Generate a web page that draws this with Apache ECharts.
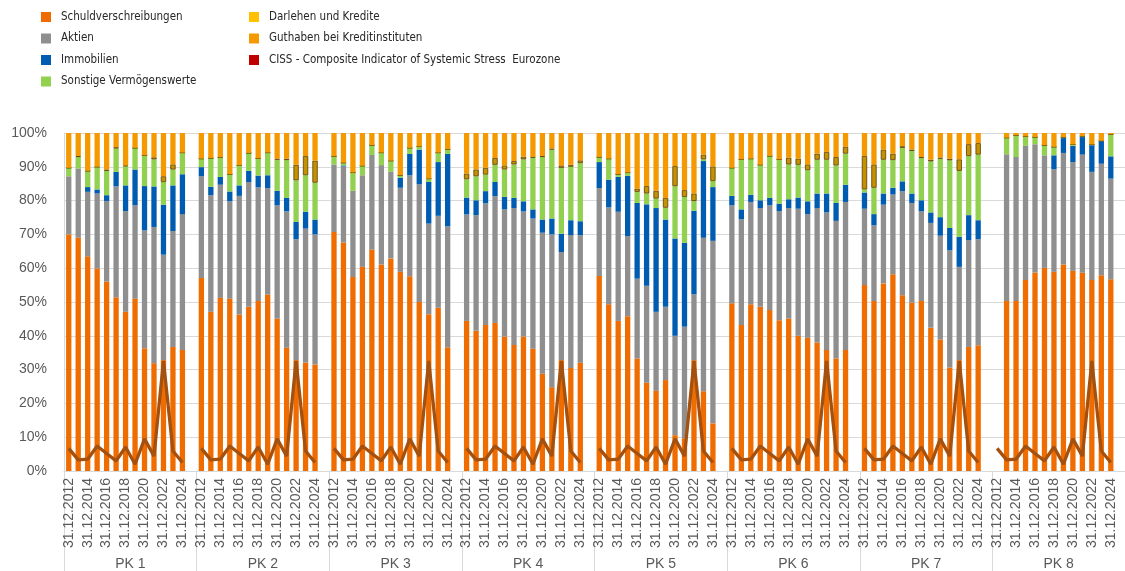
<!DOCTYPE html>
<html>
<head>
<meta charset="utf-8">
<script src="https://cdn.jsdelivr.net/npm/echarts@6/dist/echarts.min.js"></script>
<style>
  html, body { margin: 0; padding: 0; background: #fff; }
  #chart { width: 1125px; height: 571px; }
</style>
</head>
<body>
<div id="chart"></div>
<script>
// groups (funds) and years shown on the lower axis
const groups = ['PK 1', 'PK 2', 'PK 3', 'PK 4', 'PK 5', 'PK 6', 'PK 7', 'PK 8'];
const years = ['31.12.2012', '31.12.2013', '31.12.2014', '31.12.2015', '31.12.2016', '31.12.2017',
  '31.12.2018', '31.12.2019', '31.12.2020', '31.12.2021', '31.12.2022', '31.12.2023', '31.12.2024'];

// shares in %, one row of 13 years per group
const schuld = [
  [70.0, 69.0, 63.5, 59.9, 56.0, 51.4, 47.1, 51.0, 36.3, 31.9, 32.8, 36.7, 35.8],
  [57.1, 47.1, 51.2, 51.0, 46.3, 48.6, 50.3, 52.2, 45.1, 36.5, 32.8, 32.1, 31.5],
  [70.7, 67.6, 57.4, 60.4, 65.5, 61.1, 62.9, 58.9, 57.6, 50.0, 46.4, 48.3, 36.6],
  [44.4, 41.5, 43.2, 43.8, 39.8, 37.3, 39.8, 36.2, 28.8, 24.8, 32.8, 30.5, 32.0],
  [57.7, 49.3, 44.4, 45.8, 33.3, 26.1, 23.7, 26.9, 10.6, 9.7, 32.8, 23.6, 14.1],
  [49.6, 43.2, 49.3, 48.6, 47.6, 44.6, 45.1, 40.0, 39.4, 38.0, 35.8, 33.3, 35.8],
  [55.0, 50.3, 55.5, 58.2, 52.0, 49.8, 50.3, 42.4, 38.9, 30.6, 32.8, 36.7, 37.2],
  [null, 50.3, 50.3, 56.5, 58.7, 60.1, 58.9, 61.1, 59.2, 58.7, 56.5, 57.9, 56.7]
];
const aktien = [
  [17.2, 20.5, 19.1, 22.2, 23.9, 32.8, 29.8, 27.6, 34.9, 40.3, 31.2, 34.3, 40.2],
  [30.1, 34.5, 33.5, 28.8, 35.1, 36.9, 33.6, 31.5, 33.5, 40.3, 35.8, 39.6, 38.5],
  [20.0, 22.5, 25.5, 27.1, 28.0, 29.4, 25.6, 24.9, 29.9, 34.8, 26.8, 27.2, 35.8],
  [31.5, 34.2, 36.0, 37.5, 37.6, 40.5, 37.0, 38.5, 41.7, 45.2, 32.0, 39.3, 37.8],
  [26.0, 28.7, 32.3, 23.7, 23.6, 28.7, 23.4, 21.7, 29.4, 33.0, 19.5, 45.4, 54.0],
  [29.0, 31.3, 30.3, 29.2, 31.0, 32.3, 32.7, 37.6, 36.6, 39.8, 40.7, 40.7, 43.8],
  [22.6, 22.4, 23.3, 23.6, 30.8, 29.5, 26.5, 31.0, 30.7, 34.7, 27.6, 31.6, 31.4],
  [null, 43.4, 42.6, 39.7, 38.0, 33.3, 30.4, 33.0, 32.2, 34.9, 32.0, 33.0, 29.8]
];
const immobilien = [
  [0, 0, 1.4, 1.2, 1.7, 4.3, 7.6, 10.6, 13.1, 12.0, 14.8, 13.5, 11.8],
  [2.7, 2.5, 2.3, 2.9, 3.1, 3.3, 3.5, 3.8, 4.3, 4.0, 5.1, 5.0, 4.4],
  [0, 0.3, 0, 0, 0, 0, 0, 3.0, 6.3, 10.3, 12.3, 15.9, 21.4],
  [5.0, 4.4, 3.6, 4.2, 3.7, 3.0, 3.0, 2.7, 3.9, 4.7, 5.4, 4.4, 4.1],
  [7.7, 8.2, 10.3, 17.8, 22.4, 24.1, 30.7, 25.8, 28.8, 24.8, 24.7, 22.7, 15.9],
  [2.8, 2.9, 2.1, 2.3, 2.2, 2.2, 2.6, 3.3, 3.8, 4.3, 5.6, 5.3, 5.1],
  [4.8, 3.3, 3.3, 2.0, 2.9, 2.8, 3.3, 3.1, 5.5, 6.6, 8.9, 7.4, 5.6],
  [null, 0, 0, 0, 0, 0, 4.1, 4.4, 4.8, 5.2, 7.9, 6.7, 6.6]
];
const sonstige = [
  [2.5, 3.4, 4.8, 6.7, 7.2, 6.9, 5.7, 6.4, 9.1, 8.0, 6.7, 4.7, 6.4],
  [2.5, 8.5, 5.8, 5.1, 5.9, 5.3, 5.1, 6.7, 9.2, 11.2, 12.3, 10.8, 10.9],
  [2.4, 0.8, 5.4, 2.8, 2.9, 3.7, 3.3, 0.7, 1.8, 0.9, 1.0, 2.8, 1.4],
  [5.4, 7.1, 4.9, 5.1, 8.1, 9.9, 12.4, 15.3, 18.5, 20.4, 19.5, 15.8, 17.2],
  [1.5, 6.2, 0.8, 1.0, 3.3, 3.2, 2.8, 3.5, 15.5, 13.6, 2.9, 0.5, 1.8],
  [8.3, 14.8, 10.7, 10.5, 12.4, 13.1, 10.3, 9.7, 9.2, 10.0, 10.0, 11.1, 9.2],
  [0.9, 7.8, 10.0, 8.2, 9.9, 12.6, 12.5, 15.1, 17.3, 20.0, 19.5, 17.5, 19.4],
  [null, 4.9, 6.4, 2.8, 2.1, 3.0, 2.5, 0.3, 0.4, 0.3, 0.2, 0.1, 6.5]
];
const darlehen = [
  [0, 0.3, 0, 0, 0.4, 0.4, 0.2, 0, 0, 0.6, 1.7, 1.5, 0],
  [0, 0, 0, 0, 0, 0, 0, 0, 0.3, 0.4, 4.6, 5.7, 6.5],
  [0, 0, 0, 0, 0, 0, 0, 0, 0, 0, 0, 0, 0],
  [1.7, 2.0, 2.0, 2.0, 1.2, 1.0, 0.8, 0.2, 0.3, 0.3, 0.7, 0.6, 0.8],
  [0, 0, 0, 0, 0.9, 2.2, 2.3, 2.9, 5.9, 2.0, 2.2, 1.4, 4.3],
  [0, 0, 0, 0, 0, 0, 2.0, 1.8, 1.7, 1.8, 2.3, 2.5, 2.0],
  [9.9, 6.9, 3.0, 1.9, 0.5, 0.4, 0.3, 0.5, 0.3, 0.5, 3.4, 3.5, 3.4],
  [null, 0, 0, 0, 0, 0, 0, 0, 0, 0, 0, 0, 0]
];
const guthaben = [
  [10.3, 6.8, 11.2, 10.0, 10.8, 4.2, 9.6, 4.4, 6.6, 7.2, 12.8, 9.3, 5.8],
  [7.6, 7.4, 7.2, 12.2, 9.6, 5.9, 7.5, 5.8, 7.6, 7.6, 9.4, 6.8, 8.2],
  [6.9, 8.8, 11.7, 9.7, 3.6, 5.8, 8.2, 12.5, 4.4, 4.0, 13.5, 5.8, 4.8],
  [12.0, 10.8, 10.3, 7.4, 9.6, 8.3, 7.0, 7.1, 6.8, 4.6, 9.6, 9.4, 8.1],
  [7.1, 7.6, 12.2, 11.7, 16.5, 15.7, 17.1, 19.2, 9.8, 16.9, 17.9, 6.4, 9.9],
  [10.3, 7.8, 7.6, 9.4, 6.8, 7.8, 7.3, 7.6, 9.3, 6.1, 5.6, 7.1, 4.1],
  [6.8, 9.3, 4.9, 6.1, 3.9, 4.9, 7.1, 7.9, 7.3, 7.6, 7.8, 3.3, 3.0],
  [null, 1.4, 0.7, 1.0, 1.2, 3.6, 4.1, 1.2, 3.4, 0.9, 3.4, 2.3, 0.4]
];
// CISS in %, same for every group
const ciss = [6.7, 3.3, 3.5, 7.4, 5.2, 3.0, 7.1, 2.0, 9.5, 4.4, 32.6, 5.9, 2.5];

// 13 years + one empty slot per group
const cats = [];
groups.forEach((g, gi) => {
  years.forEach((y, yi) => cats.push(gi + '_' + yi));
  cats.push(gi + '_gap');
});
function flat(rows) {
  const out = [];
  rows.forEach(r => { r.forEach(v => out.push(v)); out.push(null); });
  return out;
}
const cissAll = flat(groups.map(() => ciss));

const barSeries = [
  ['Schuldverschreibungen', schuld, '#ee6c00'],
  ['Aktien', aktien, '#8f8f8f'],
  ['Immobilien', immobilien, '#005cb0'],
  ['Sonstige Vermögenswerte', sonstige, '#92d050'],
  ['Darlehen und Kredite', darlehen, '#c49200'],
  ['Guthaben bei Kreditinstituten', guthaben, '#f49a00']
].map(([name, rows, color]) => ({
  name: name,
  type: 'bar',
  stack: 'total',
  barWidth: '56%',
  data: flat(rows),
  itemStyle: name === 'Darlehen und Kredite'
    ? { color: color, borderColor: '#5a3c00', borderWidth: 0.8 }
    : { color: color },
  emphasis: { disabled: true }
}));

const chart = echarts.init(document.getElementById('chart'), null, { renderer: 'canvas' });
const legendText = {
  fontSize: 11.5, color: '#262626', padding: [0, 0, 0, 5],
  fontFamily: '"Liberation Sans Narrow", "DejaVu Sans Condensed", "Liberation Sans", sans-serif'
};

chart.setOption({
  animation: false,
  legend: [
    {
      orient: 'vertical', left: 41, top: 11, padding: 0, itemWidth: 10, itemHeight: 10, itemGap: 9.5, icon: 'rect',
      textStyle: legendText,
      data: ['Schuldverschreibungen', 'Aktien', 'Immobilien', 'Sonstige Vermögenswerte']
    },
    {
      orient: 'vertical', left: 249, top: 11, padding: 0, itemWidth: 10, itemHeight: 10, itemGap: 9.5, icon: 'rect',
      textStyle: legendText,
      data: [
        { name: 'Darlehen und Kredite', itemStyle: { color: '#ffc000', borderWidth: 0 } },
        'Guthaben bei Kreditinstituten',
        { name: 'CISS - Composite Indicator of Systemic Stress  Eurozone', itemStyle: { color: '#c00000' } }
      ]
    }
  ],
  grid: { left: 64, top: 133, width: 1068, height: 338 },
  xAxis: [
    {
      type: 'category',
      data: cats,
      axisLine: { lineStyle: { color: '#d9d9d9' } },
      axisTick: { show: false },
      axisLabel: {
        interval: 1, rotate: 90, margin: 7, fontSize: 14, color: '#595959',
        fontFamily: 'Liberation Sans, Arial, sans-serif',
        formatter: v => { const p = v.split('_'); return p[1] === 'gap' ? '' : years[+p[1]]; }
      }
    },
    {
      type: 'category',
      data: groups,
      position: 'bottom',
      axisLine: { show: false },
      axisTick: { show: true, length: 100, lineStyle: { color: '#d9d9d9' } },
      axisLabel: { margin: 86, fontSize: 14, color: '#595959', fontFamily: 'Liberation Sans, Arial, sans-serif' }
    }
  ],
  yAxis: {
    type: 'value', min: 0, max: 100, interval: 10,
    axisLine: { show: true, lineStyle: { color: '#d9d9d9' } },
    splitLine: { lineStyle: { color: '#d9d9d9' } },
    axisLabel: { formatter: '{value}%', fontSize: 14, color: '#595959', margin: 17, fontFamily: 'Liberation Sans, Arial, sans-serif' }
  },
  series: barSeries.concat([{
    name: 'CISS - Composite Indicator of Systemic Stress  Eurozone',
    type: 'line',
    data: cissAll,
    connectNulls: false,
    showSymbol: false,
    symbol: 'none',
    z: 5,
    itemStyle: { color: '#c00000' },
    lineStyle: { color: '#a4500e', width: 3.3 },
    emphasis: { disabled: true }
  }])
});
</script>
</body>
</html>
